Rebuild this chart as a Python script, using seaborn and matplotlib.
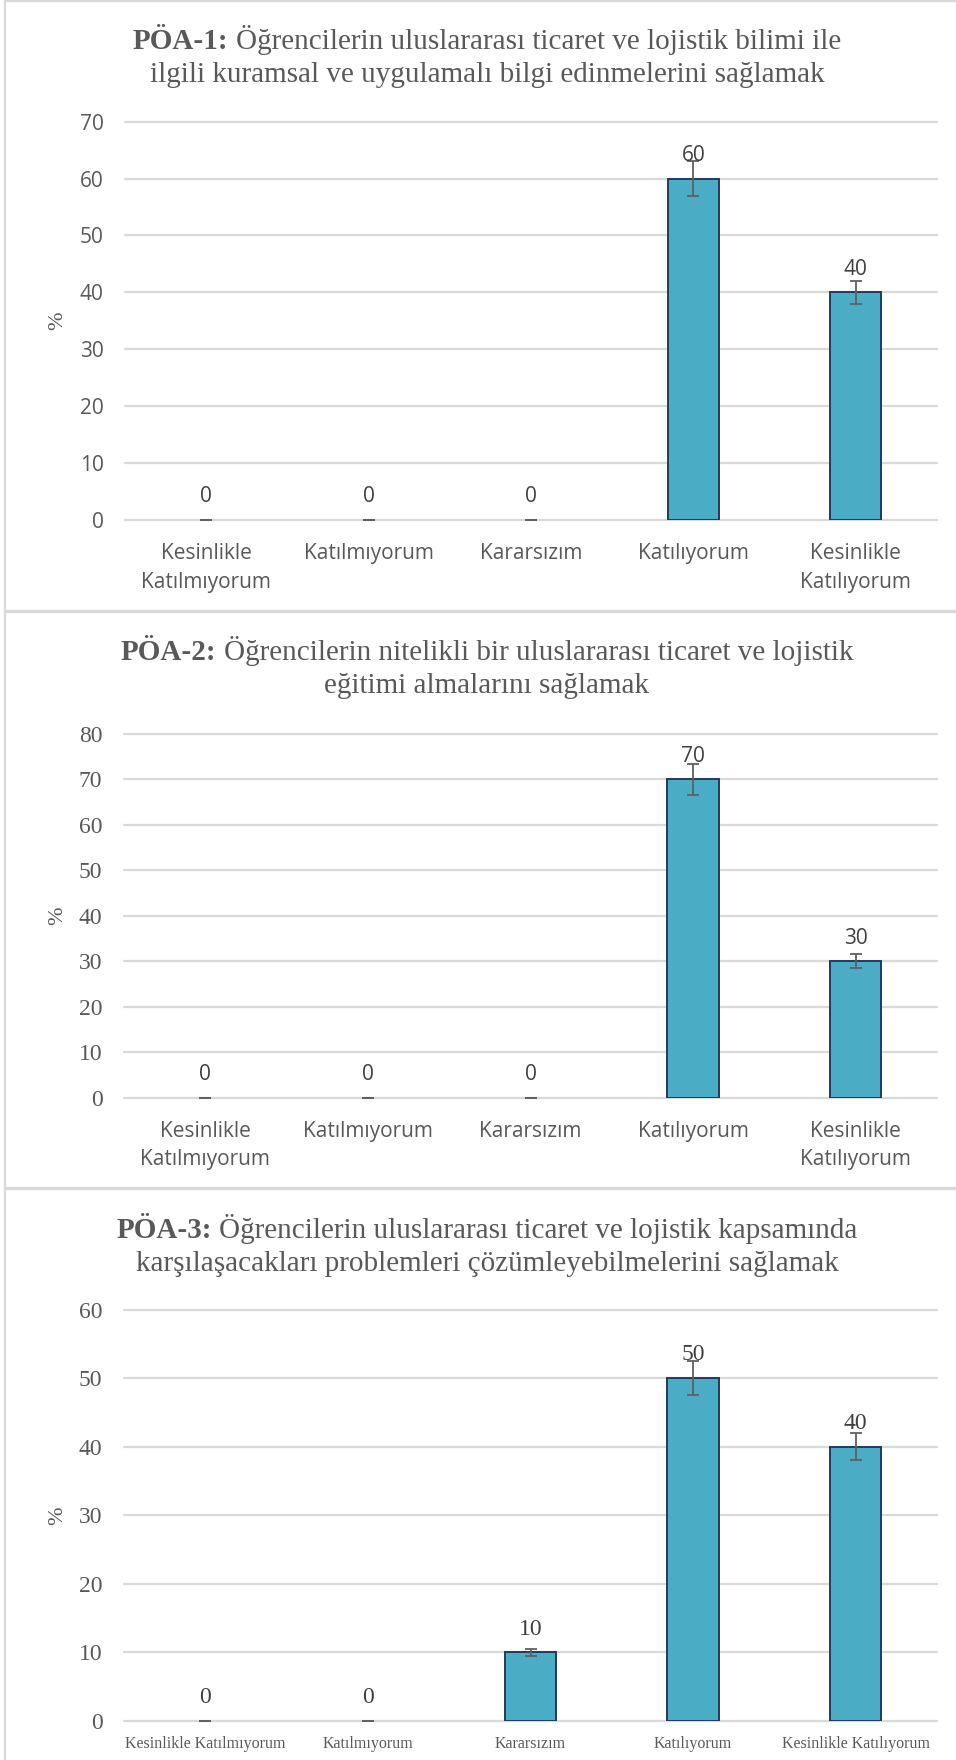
import matplotlib
matplotlib.use('Agg')
import matplotlib.pyplot as plt
import seaborn as sns
import pandas as pd
from matplotlib.lines import Line2D

sns.set_style('white')
plt.rcParams['font.family'] = ['Open Sans', 'DejaVu Sans']

# veri
categories = ["Kesinlikle Katılmıyorum", "Katılmıyorum", "Kararsızım", "Katılıyorum", "Kesinlikle Katılıyorum"]
labels_wrapped = ["Kesinlikle\nKatılmıyorum", "Katılmıyorum", "Kararsızım", "Katılıyorum", "Kesinlikle\nKatılıyorum"]

values_poa1 = [0, 0, 0, 60, 40]
errors_poa1 = [0, 0, 0, 3, 2]
values_poa2 = [0, 0, 0, 70, 30]
errors_poa2 = [0, 0, 0, 3.5, 1.5]
values_poa3 = [0, 0, 10, 50, 40]
errors_poa3 = [0, 0, 0.5, 2.5, 2]

title_poa1 = ["PÖA-1:", "Öğrencilerin uluslararası ticaret ve lojistik bilimi ile",
              "ilgili kuramsal ve uygulamalı bilgi edinmelerini sağlamak"]
title_poa2 = ["PÖA-2:", "Öğrencilerin nitelikli bir uluslararası ticaret ve lojistik",
              "eğitimi almalarını sağlamak"]
title_poa3 = ["PÖA-3:", "Öğrencilerin uluslararası ticaret ve lojistik kapsamında",
              "karşılaşacakları problemleri çözümleyebilmelerini sağlamak"]

BAR = '#4BACC6'
EDGE = '#1F3B5E'
ERR = '#606060'
GRID = '#D9D9D9'
TXT = '#595959'
SANS = 'Open Sans'
SERIF = 'Liberation Serif'

W, H = 956, 1760
fig = plt.figure(figsize=(W / 100, H / 100), dpi=100)
renderer = fig.canvas.get_renderer()


def rect(left, top, right, bottom):
    return [left / W, 1 - bottom / H, (right - left) / W, (bottom - top) / H]


def draw_title(parts, y1, y2, cx=487, size=21):
    # kalin baslik + normal metin, ortalanmis
    b = fig.text(0, 1 - y1 / H, parts[0], fontfamily=SERIF, fontweight='bold', fontsize=size,
                 color=TXT, va='baseline', ha='left')
    r = fig.text(0, 1 - y1 / H, parts[1], fontfamily=SERIF, fontsize=size,
                 color=TXT, va='baseline', ha='left')
    wb = b.get_window_extent(renderer).width
    wr = r.get_window_extent(renderer).width
    gap = size * 0.25 * 100 / 72
    x0 = cx - (wb + gap + wr) / 2
    b.set_x(x0 / W)
    r.set_x((x0 + wb + gap) / W)
    fig.text(cx / W, 1 - y2 / H, parts[2], fontfamily=SERIF, fontsize=size,
             color=TXT, va='baseline', ha='center')


def draw_panel(box, values, errors, ymax, tick_family, tick_size, value_family, value_size,
               cat_labels, cat_family, cat_size, cat_pad):
    ax = fig.add_axes(rect(*box))
    df = pd.DataFrame({'kategori': categories, 'yuzde': values})
    sns.barplot(data=df, x='kategori', y='yuzde', order=categories, color=BAR, saturation=1,
                width=0.315, edgecolor=EDGE, linewidth=1.4, ax=ax)
    for p in ax.patches:
        if p.get_height() == 0:
            p.set_linewidth(0)
    ax.errorbar(range(len(values)), values, yerr=errors, fmt='none', ecolor=ERR,
                elinewidth=1.3, capsize=4.5, capthick=1.3, zorder=3)
    for i, v in enumerate(values):
        ax.annotate(str(v), (i, v), xytext=(0, 12.7), textcoords='offset points',
                    ha='center', va='baseline', fontfamily=value_family,
                    fontsize=value_size, color='#404040', zorder=4)
    ax.set_ylim(0, ymax)
    ax.set_yticks(range(0, ymax + 1, 10))
    ax.set_xlim(-0.5, len(values) - 0.5)
    ax.yaxis.grid(True, color=GRID, linewidth=1.6)
    ax.xaxis.grid(False)
    for gl in ax.get_ygridlines():
        gl.set_clip_on(False)
    ax.set_axisbelow(True)
    sns.despine(ax=ax, left=True, bottom=True)
    ax.set_xticks(range(len(values)))
    ax.set_xticklabels(cat_labels, fontfamily=cat_family, fontsize=cat_size, color=TXT,
                       linespacing=1.45, va='top')
    ax.tick_params(axis='x', length=0, pad=cat_pad)
    ax.tick_params(axis='y', length=0, pad=15.5, labelsize=tick_size, labelcolor=TXT)
    for t in ax.get_yticklabels():
        t.set_fontfamily(tick_family)
    ax.set_xlabel('')
    ax.set_ylabel('%', fontfamily=SERIF, fontsize=16, color=TXT, va='center')
    ax.yaxis.set_label_coords((58 - box[0]) / (box[2] - box[0]), 0.5)
    return ax


# PÖA-1
draw_title(title_poa1, 49, 82)
draw_panel((125, 121.7, 937, 519.7), values_poa1, errors_poa1, 70, SANS, 15, SANS, 15,
           labels_wrapped, SANS, 15, 17)

# PÖA-2
draw_title(title_poa2, 660, 693)
draw_panel((124, 734, 937, 1097.5), values_poa2, errors_poa2, 80, SERIF, 17, SANS, 15,
           labels_wrapped, SANS, 15, 17)

# PÖA-3
draw_title(title_poa3, 1238, 1271)
draw_panel((124, 1309.5, 937, 1721), values_poa3, errors_poa3, 60, SERIF, 17, SERIF, 17,
           categories, SERIF, 11.5, 11)

# cerceve cizgileri
fig.add_artist(Line2D([5 / W, 5 / W], [0, 1], color=GRID, linewidth=1.6))
fig.add_artist(Line2D([5 / W, 1], [1 - 1 / H, 1 - 1 / H], color=GRID, linewidth=1.6))
fig.add_artist(Line2D([5 / W, 1], [1 - 610.5 / H, 1 - 610.5 / H], color=GRID, linewidth=2.4))
fig.add_artist(Line2D([5 / W, 1], [1 - 1188 / H, 1 - 1188 / H], color=GRID, linewidth=2.4))

fig.savefig('out.png', dpi=100, facecolor='white')
